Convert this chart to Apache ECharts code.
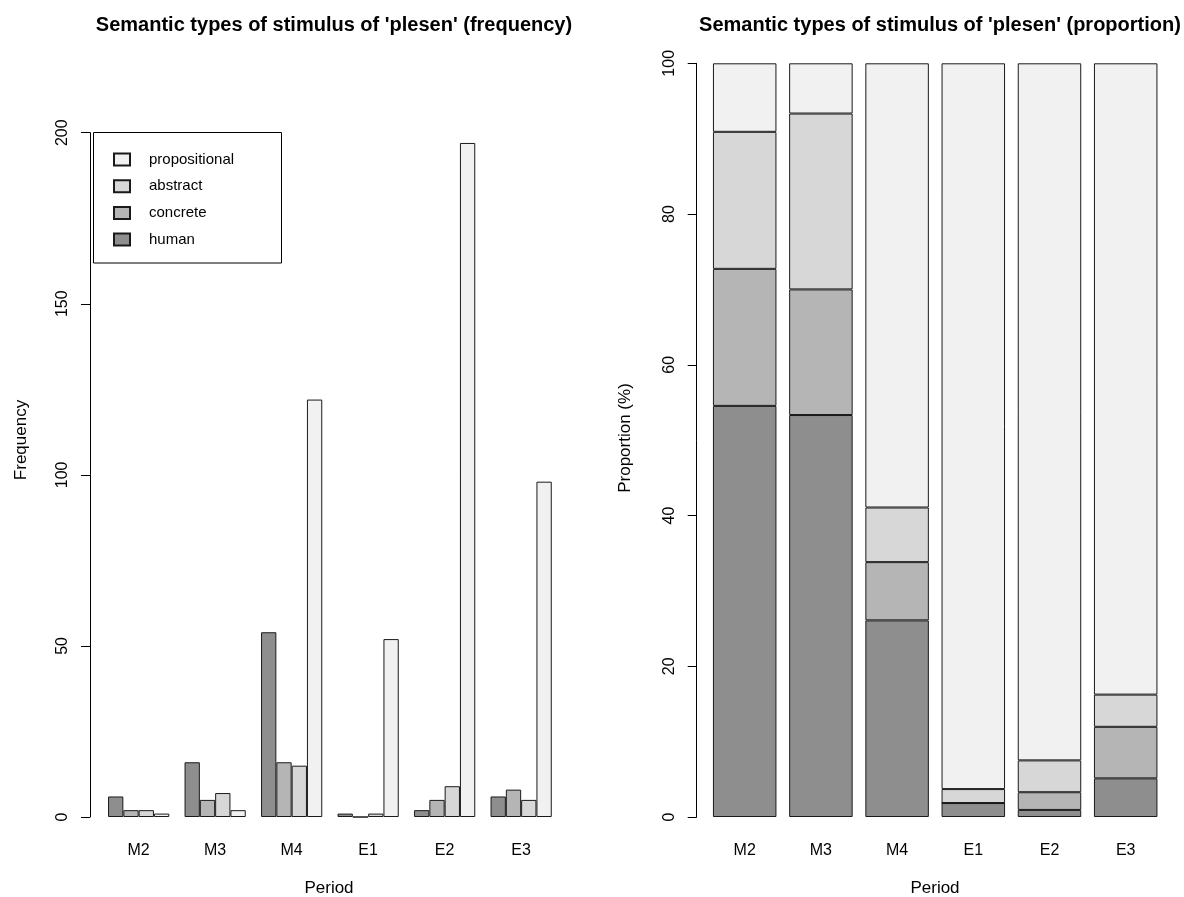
<!DOCTYPE html>
<html>
<head>
<meta charset="utf-8">
<script src="https://cdn.jsdelivr.net/npm/echarts@6/dist/echarts.min.js"></script>
<style>
html,body{margin:0;padding:0;background:#fff;}
#chart{width:1184px;height:897px;}
</style>
</head>
<body>
<div id="chart"></div>
<script>
// Data
var periods = ['M2', 'M3', 'M4', 'E1', 'E2', 'E3'];
var typeNames = ['human', 'concrete', 'abstract', 'propositional'];
var human = [6, 16, 54, 1, 2, 6];
var concrete = [2, 5, 16, 0, 5, 8];
var abstract_ = [2, 7, 15, 1, 9, 5];
var propositional = [1, 2, 122, 52, 197, 98];
var freqTicks = [0, 50, 100, 150, 200];
var propTicks = [0, 20, 40, 60, 80, 100];

var colors = ['#8e8e8e', '#b5b5b5', '#d7d7d7', '#f1f1f1'];
var counts = [human, concrete, abstract_, propositional];
var totals = periods.map(function (p, i) {
  return human[i] + concrete[i] + abstract_[i] + propositional[i];
});
var proportions = counts.map(function (arr) {
  return arr.map(function (v, i) { return v / totals[i] * 100; });
});

var FONT = '"Liberation Sans", Arial, sans-serif';
var chart = echarts.init(document.getElementById('chart'), null, {renderer: 'canvas'});

var series = [];
typeNames.forEach(function (name, k) {
  series.push({
    name: name, type: 'bar', xAxisIndex: 0, yAxisIndex: 0,
    data: counts[k], barGap: '0%', barCategoryGap: '20%',
    itemStyle: {color: colors[k], borderColor: '#1a1a1a', borderWidth: 1},
    emphasis: {disabled: true}, animation: false
  });
});
typeNames.forEach(function (name, k) {
  series.push({
    name: name, type: 'bar', xAxisIndex: 1, yAxisIndex: 1, stack: 'p',
    data: proportions[k], barCategoryGap: '16.67%',
    itemStyle: {color: colors[k], borderColor: '#1a1a1a', borderWidth: 1},
    emphasis: {disabled: true}, animation: false
  });
});

function yAxisCfg(gridIdx, max, interval, offset) {
  return {
    type: 'value', gridIndex: gridIdx, min: 0, max: max, interval: interval,
    offset: offset,
    axisLine: {show: true, lineStyle: {color: '#000', width: 1}},
    axisTick: {show: true, length: 9, lineStyle: {color: '#000'}},
    axisLabel: {rotate: 90, margin: 19, color: '#000', fontSize: 16, fontFamily: FONT},
    splitLine: {show: false}
  };
}
function xAxisCfg(gridIdx) {
  return {
    type: 'category', gridIndex: gridIdx, data: periods,
    axisLine: {show: false}, axisTick: {show: false},
    axisLabel: {margin: 26, color: '#000', fontSize: 16, fontFamily: FONT},
    splitLine: {show: false}
  };
}

var option = {
  backgroundColor: '#fff',
  animation: false,
  title: [
    {text: "Semantic types of stimulus of 'plesen' (frequency)", left: 329, top: 10, textAlign: 'center',
     textStyle: {fontSize: 20, fontWeight: 'bold', color: '#000', fontFamily: FONT}},
    {text: "Semantic types of stimulus of 'plesen' (proportion)", left: 935, top: 10, textAlign: 'center',
     textStyle: {fontSize: 20, fontWeight: 'bold', color: '#000', fontFamily: FONT}}
  ],
  grid: [
    {left: 100.4, width: 459, top: 132.7, height: 684.3, containLabel: false},
    {left: 706.6, width: 457.2, top: 63.3, height: 753.7, containLabel: false}
  ],
  xAxis: [xAxisCfg(0), xAxisCfg(1)],
  yAxis: [yAxisCfg(0, 200, 50, 10.4), yAxisCfg(1, 100, 20, 9.9)],
  legend: {
    data: ['propositional', 'abstract', 'concrete', 'human'],
    orient: 'vertical', left: 113, top: 152, padding: 0, itemWidth: 16, itemHeight: 12, itemGap: 11.7,
    icon: 'rect', selectedMode: false,
    textStyle: {fontSize: 15, lineHeight: 14, color: '#000', fontFamily: FONT, padding: [0, 0, 0, 14]}
  },
  graphic: [
    {type: 'rect', shape: {x: 93.5, y: 132.5, width: 188, height: 130.5}, silent: true,
     style: {fill: 'none', stroke: '#000', lineWidth: 1}},
    {type: 'text', x: 329, y: 888, silent: true,
     style: {text: 'Period', font: '17px ' + FONT, fill: '#000', textAlign: 'center', textVerticalAlign: 'middle'}},
    {type: 'text', x: 935, y: 888, silent: true,
     style: {text: 'Period', font: '17px ' + FONT, fill: '#000', textAlign: 'center', textVerticalAlign: 'middle'}},
    {type: 'text', x: 21, y: 440, rotation: Math.PI / 2, silent: true,
     style: {text: 'Frequency', font: '17px ' + FONT, fill: '#000', textAlign: 'center', textVerticalAlign: 'middle'}},
    {type: 'text', x: 625, y: 438, rotation: Math.PI / 2, silent: true,
     style: {text: 'Proportion (%)', font: '17px ' + FONT, fill: '#000', textAlign: 'center', textVerticalAlign: 'middle'}}
  ],
  series: series
};
chart.setOption(option);
</script>
</body>
</html>
